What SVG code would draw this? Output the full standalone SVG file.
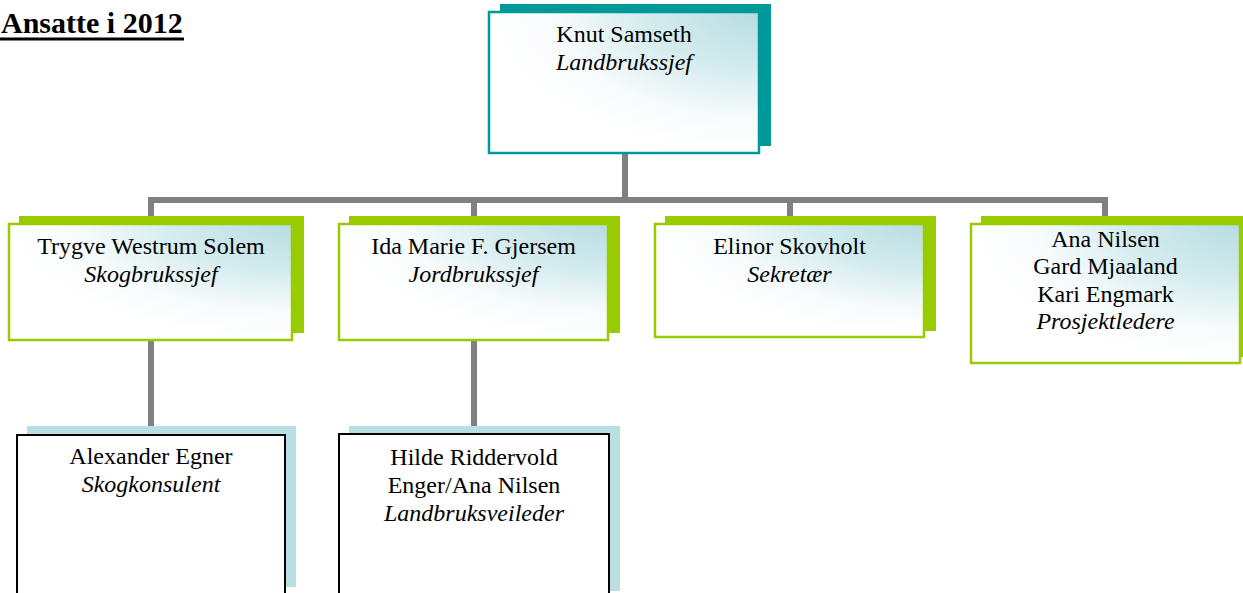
<svg xmlns="http://www.w3.org/2000/svg" width="1243" height="593" viewBox="0 0 1243 593">
<style>
.t{font-family:"Liberation Serif","Times New Roman",serif;font-size:24px;fill:#000;text-anchor:middle}
.i{font-style:italic}
.conn{fill:none;stroke:#808080;stroke-width:6;stroke-linejoin:miter}
.fg{fill:url(#gr);stroke:#99CC00;stroke-width:2.5}
.sg{fill:#99CC00}
.ft{fill:url(#gr);stroke:#009999;stroke-width:2.5}
.st{fill:#009999}
.fb{fill:#fff;stroke:#000;stroke-width:2}
.sb{fill:#B9DFE3}
</style>
<defs>
<radialGradient id="gr" cx="1" cy="0" r="1" gradientUnits="objectBoundingBox">
<stop offset="0" stop-color="#B7DDE1"/>
<stop offset="0.4" stop-color="#D3EBEE"/>
<stop offset="0.75" stop-color="#F7FBFC"/>
<stop offset="1" stop-color="#FFFFFF"/>
</radialGradient>
</defs>
<rect width="1243" height="593" fill="#fff"/>
<g id="title">
<text x="1" y="33" style="font-family:'Liberation Serif','Times New Roman',serif;font-size:30px;font-weight:bold">Ansatte i 2012</text>
<rect x="0" y="37.5" width="184" height="3" fill="#000"/>
</g>
<g id="connectors">
<path class="conn" d="M625,154 V200"/>
<path class="conn" d="M151,223 V200 H1105 V223"/>
<path class="conn" d="M474,200 V223"/>
<path class="conn" d="M790,200 V223"/>
<path class="conn" d="M151,341 V434"/>
<path class="conn" d="M474,341 V433"/>
</g>
<g id="node-knut">
<rect class="st" x="500" y="4" width="271" height="142"/>
<rect class="ft" x="489" y="12" width="270" height="141"/>
<text class="t" x="624" y="42">Knut Samseth</text>
<text class="t i" x="624" y="70">Landbrukssjef</text>
</g>
<g id="node-trygve">
<rect class="sg" x="19" y="216" width="285" height="117"/>
<rect class="fg" x="9" y="224" width="283" height="116"/>
<text class="t" x="151" y="254">Trygve Westrum Solem</text>
<text class="t i" x="151" y="282">Skogbrukssjef</text>
</g>
<g id="node-ida">
<rect class="sg" x="349" y="216" width="271" height="117"/>
<rect class="fg" x="339" y="224" width="269" height="116"/>
<text class="t" x="473.5" y="254">Ida Marie F. Gjersem</text>
<text class="t i" x="473.5" y="282">Jordbrukssjef</text>
</g>
<g id="node-elinor">
<rect class="sg" x="665" y="216" width="271" height="115"/>
<rect class="fg" x="655" y="224" width="269" height="113"/>
<text class="t" x="789.5" y="254">Elinor Skovholt</text>
<text class="t i" x="789.5" y="282">Sekretær</text>
</g>
<g id="node-prosjekt">
<rect class="sg" x="981" y="216" width="271" height="141"/>
<rect class="fg" x="971" y="224" width="269" height="139"/>
<text class="t" x="1105.5" y="246.5">Ana Nilsen</text>
<text class="t" x="1105.5" y="274">Gard Mjaaland</text>
<text class="t" x="1105.5" y="301.5">Kari Engmark</text>
<text class="t i" x="1105.5" y="329">Prosjektledere</text>
</g>
<g id="node-alexander">
<rect class="sb" x="27" y="426" width="269" height="161"/>
<rect class="fb" x="17" y="435" width="268" height="165"/>
<text class="t" x="151" y="464">Alexander Egner</text>
<text class="t i" x="151" y="492">Skogkonsulent</text>
</g>
<g id="node-hilde">
<rect class="sb" x="349" y="426" width="271" height="165"/>
<rect class="fb" x="339" y="434" width="270" height="165"/>
<text class="t" x="474" y="465">Hilde Riddervold</text>
<text class="t" x="474" y="493">Enger/Ana Nilsen</text>
<text class="t i" x="474" y="521">Landbruksveileder</text>
</g>
</svg>
